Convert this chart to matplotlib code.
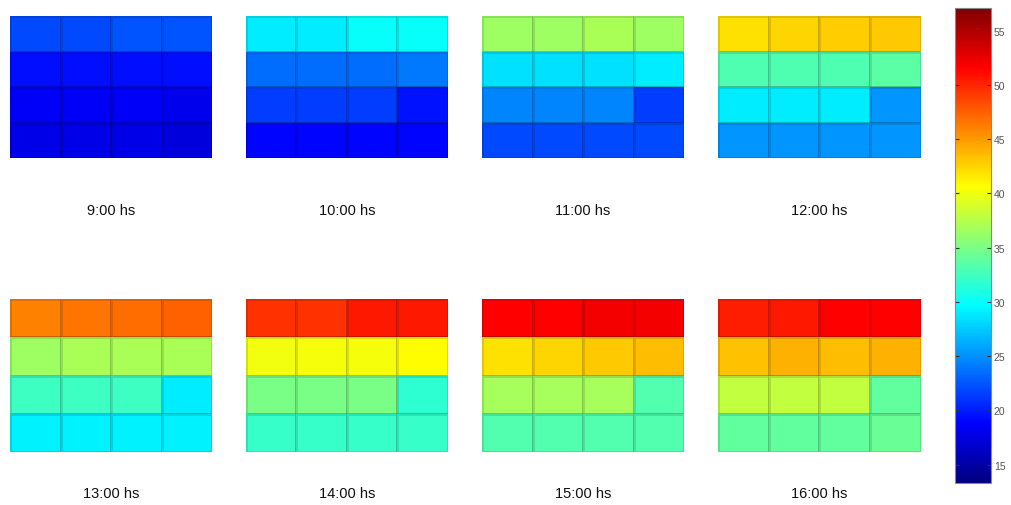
import matplotlib
matplotlib.use("Agg")
import matplotlib.pyplot as plt
from matplotlib.colors import LinearSegmentedColormap
import numpy as np

plt.rcParams.update({"font.family": "Liberation Sans"})

# ----------------------------------------------------------------------
# Data: temperature per cell, 4 rows x 4 columns, one grid per hour

hours = ["9:00 hs", "10:00 hs", "11:00 hs", "12:00 hs",
         "13:00 hs", "14:00 hs", "15:00 hs", "16:00 hs"]

t09 = [[22.0, 22.0, 22.5, 22.5],
       [19.3, 19.3, 19.3, 19.3],
       [18.5, 18.5, 18.5, 18.0],
       [17.8, 17.8, 17.8, 17.3]]
t10 = [[29.0, 29.0, 30.0, 30.0],
       [23.5, 23.5, 23.5, 24.0],
       [21.5, 21.5, 21.5, 19.5],
       [19.0, 19.0, 19.0, 19.0]]
t11 = [[36.5, 36.5, 37.0, 36.5],
       [28.5, 28.5, 28.5, 29.0],
       [24.5, 24.5, 24.5, 21.5],
       [22.0, 22.0, 22.0, 22.0]]
t12 = [[42.0, 42.5, 42.8, 43.0],
       [33.0, 33.0, 33.0, 33.5],
       [29.0, 29.0, 29.0, 25.2],
       [25.2, 25.2, 25.2, 25.2]]
t13 = [[46.0, 46.5, 47.0, 47.5],
       [36.5, 37.0, 37.0, 37.0],
       [32.3, 32.3, 32.3, 29.0],
       [29.2, 29.2, 29.2, 29.2]]
t14 = [[49.5, 49.5, 50.5, 50.5],
       [40.0, 40.2, 40.3, 40.8],
       [35.0, 35.0, 35.0, 31.7],
       [32.0, 32.0, 32.0, 32.0]]
t15 = [[51.5, 51.5, 52.0, 52.0],
       [42.0, 42.5, 43.0, 43.5],
       [36.8, 36.8, 36.8, 33.3],
       [33.3, 33.3, 33.3, 33.3]]
t16 = [[50.3, 50.5, 51.5, 51.5],
       [43.3, 44.0, 43.5, 44.0],
       [38.0, 38.0, 38.0, 34.0],
       [34.0, 34.0, 34.0, 34.3]]

grids = [t09, t10, t11, t12, t13, t14, t15, t16]
cb_ticks = [15, 20, 25, 30, 35, 40, 45, 50, 55]
vmin, vmax = 13.3, 57.1

# MATLAB style jet (cyan at 3/8, yellow at 5/8)
jet = LinearSegmentedColormap("mjet", {
    "red":   [(0, 0, 0), (3 / 8, 0, 0), (5 / 8, 1, 1), (7 / 8, 1, 1), (1, 0.5, 0.5)],
    "green": [(0, 0, 0), (1 / 8, 0, 0), (3 / 8, 1, 1), (5 / 8, 1, 1), (7 / 8, 0, 0), (1, 0, 0)],
    "blue":  [(0, 0.5, 0.5), (1 / 8, 1, 1), (3 / 8, 1, 1), (5 / 8, 0, 0), (1, 0, 0)],
}, N=256)

# ----------------------------------------------------------------------

W, H = 1012, 506
fig = plt.figure(figsize=(W / 100, H / 100), dpi=100)

# panel boxes in pixels: left, right, top, bottom
xs = [(10, 212), (246, 448), (482, 684), (718, 921)]
rows = [(17, 159), (300, 453)]
label_y = [211, 494]

mesh = None
for i, grid in enumerate(grids):
    r, c = divmod(i, 4)
    x0, x1 = xs[c]
    y0, y1 = rows[r]
    ax = fig.add_axes([x0 / W, 1 - y1 / H, (x1 - x0) / W, (y1 - y0) / H])
    mesh = ax.pcolormesh(np.array(grid), cmap=jet, vmin=vmin, vmax=vmax,
                         edgecolors=(0, 0, 0, 0.12), linewidth=0.8)
    ax.set_xlim(0, 4)
    ax.set_ylim(4, 0)
    ax.set_xticks([])
    ax.set_yticks([])
    for s in ax.spines.values():
        s.set_visible(False)
    fig.text((x0 + x1) / 2 / W, 1 - label_y[r] / H, hours[i],
             ha="center", va="center", fontsize=10.5, color="#111111")

# Colorbar
cax = fig.add_axes([955 / W, 1 - 484 / H, 36 / W, 475 / H])
cb = fig.colorbar(mesh, cax=cax, ticks=cb_ticks)
cb.outline.set_edgecolor("#888888")
cb.outline.set_linewidth(0.8)
cax.tick_params(direction="in", length=3, width=0.8, left=True, right=True,
                labelsize=7.5, labelcolor="#555555", color="#333333", pad=2)

plt.savefig("out.png", dpi=100)
